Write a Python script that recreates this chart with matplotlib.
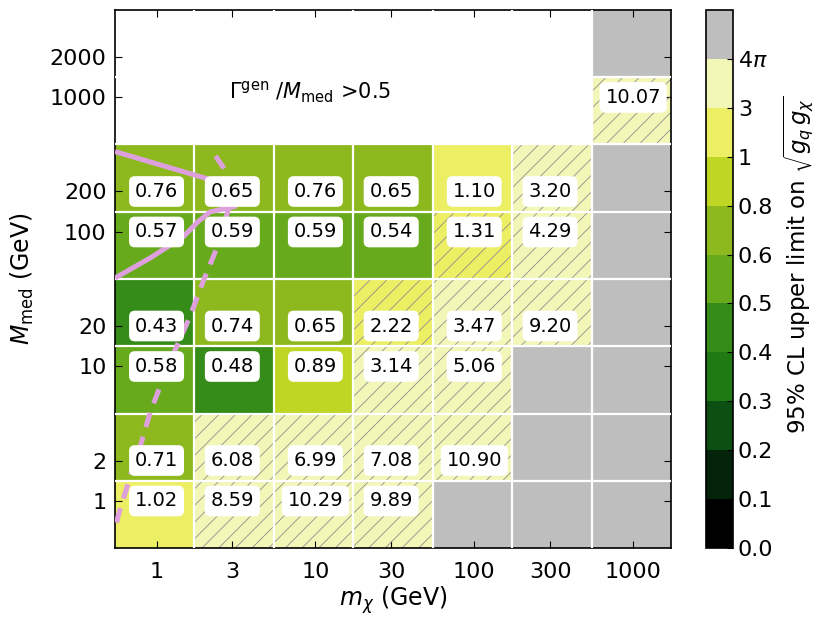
import numpy as np
import matplotlib

matplotlib.use("Agg")
import matplotlib.pyplot as plt
from matplotlib.colors import ListedColormap, BoundaryNorm
from matplotlib.patches import Rectangle

# grid points (GeV)
m_chi = [1, 3, 10, 30, 100, 300, 1000]
m_med = [1, 2, 10, 20, 100, 200, 1000, 2000]
m_chi_labels = ["1", "3", "10", "30", "100", "300", "1000"]
m_med_labels = ["1", "2", "10", "20", "100", "200", "1000", "2000"]

G = np.inf  # limit above 4 pi (gray)
N = np.nan  # Gamma/M_med > 0.5, not shown

# rows: m_med (bottom -> top), cols: m_chi
limits = np.array(
    [
        [1.02, 8.59, 10.29, 9.89, G, G, G],
        [0.71, 6.08, 6.99, 7.08, 10.90, G, G],
        [0.58, 0.48, 0.89, 3.14, 5.06, G, G],
        [0.43, 0.74, 0.65, 2.22, 3.47, 9.20, G],
        [0.57, 0.59, 0.59, 0.54, 1.31, 4.29, G],
        [0.76, 0.65, 0.76, 0.65, 1.10, 3.20, G],
        [N, N, N, N, N, N, 10.07],
        [N, N, N, N, N, N, G],
    ]
)

hatched = np.array(
    [
        [0, 1, 1, 1, 0, 0, 0],
        [0, 1, 1, 1, 1, 0, 0],
        [0, 0, 0, 1, 1, 0, 0],
        [0, 0, 0, 1, 1, 1, 0],
        [0, 0, 0, 0, 1, 1, 0],
        [0, 0, 0, 0, 0, 1, 0],
        [0, 0, 0, 0, 0, 0, 1],
        [0, 0, 0, 0, 0, 0, 0],
    ],
    dtype=bool,
)

bounds = [0, 0.1, 0.2, 0.3, 0.4, 0.5, 0.6, 0.8, 1, 3, 4 * np.pi]
bound_labels = ["0.0", "0.1", "0.2", "0.3", "0.4", "0.5", "0.6", "0.8", "1", "3", r"$4\pi$"]
level_colors = [
    "#000000",
    "#04230b",
    "#0b5012",
    "#1f7a13",
    "#358c18",
    "#67aa1c",
    "#8db91f",
    "#c0d625",
    "#ecee63",
    "#f2f6b6",
]
over_color = "#bebebe"

# relic-density style contours
solid_upper_x = [0.548, 2.11, 3.35]
solid_upper_y = [396, 248, 206]
solid_lower_x = [0.548, 0.91, 1.47, 1.82, 2.17, 2.82, 3.2]
solid_lower_y = [45.5, 64, 92, 119, 141, 151, 156]
dashed_x = [0.56, 0.573, 0.681, 0.787, 0.910, 1.05, 1.31, 1.62, 1.96, 2.51, 2.82, 2.78, 2.17]
dashed_y = [0.69, 0.774, 1.51, 2.52, 4.52, 7.05, 13.3, 23.4, 42.5, 87.3, 146, 275, 422]

plt.rcParams["hatch.linewidth"] = 0.6


def _edges(vals):
    v = np.asarray(vals, dtype=float)
    mid = np.sqrt(v[:-1] * v[1:])
    return np.concatenate([[mid[0] / np.sqrt(10)], mid, [mid[-1] * np.sqrt(10)]])


x_edges = _edges(m_chi)
y_edges = _edges(m_med)

cmap = ListedColormap(level_colors)
cmap.set_over(over_color)
norm = BoundaryNorm(bounds, cmap.N)

fig = plt.figure(figsize=(8.31, 6.32), dpi=100)
ax = fig.add_axes([0.1384, 0.1329, 0.6691, 0.8513])
cax = fig.add_axes([0.8496, 0.1329, 0.0325, 0.8513])

z = np.ma.masked_invalid(np.where(np.isposinf(limits), 1e3, limits))
mesh = ax.pcolormesh(x_edges, y_edges, z, cmap=cmap, norm=norm, zorder=1)

for i in range(len(m_med)):
    for j in range(len(m_chi)):
        if hatched[i, j]:
            ax.add_patch(
                Rectangle(
                    (x_edges[j], y_edges[i]),
                    x_edges[j + 1] - x_edges[j],
                    y_edges[i + 1] - y_edges[i],
                    fill=False,
                    hatch="//",
                    edgecolor="#8f8f8f",
                    linewidth=0,
                    zorder=2,
                )
            )

ax.vlines(x_edges[1:-1], y_edges[0], y_edges[-1], color="white", lw=1.6, zorder=3)
ax.hlines(y_edges[1:-1], x_edges[0], x_edges[-1], color="white", lw=1.6, zorder=3)

ax.plot(solid_upper_x, solid_upper_y, color="plum", lw=3.6, zorder=4, solid_capstyle="butt")
ax.plot(solid_lower_x, solid_lower_y, color="plum", lw=3.6, zorder=4, solid_capstyle="butt")
ax.plot(dashed_x, dashed_y, color="plum", lw=3.6, ls=(0, (3, 2)), zorder=4)

box = dict(boxstyle="round,pad=0.3", facecolor="white", edgecolor="none")
for i, ym in enumerate(m_med):
    for j, xm in enumerate(m_chi):
        v = limits[i, j]
        if np.isfinite(v):
            ax.text(xm, ym, f"{v:.2f}", ha="center", va="center", fontsize=14, bbox=box, zorder=5)

ax.text(
    0.351,
    0.848,
    r"$\Gamma^{\mathrm{gen}}$ /$M_{\mathrm{med}}$ >0.5",
    transform=ax.transAxes,
    ha="center",
    va="center",
    fontsize=15,
)

ax.set_xscale("log")
ax.set_yscale("log")
ax.set_xlim(x_edges[0], x_edges[-1])
ax.set_ylim(y_edges[0], y_edges[-1])
ax.set_xticks(m_chi)
ax.set_xticklabels(m_chi_labels)
ax.set_yticks(m_med)
ax.set_yticklabels(m_med_labels)
ax.minorticks_off()
ax.tick_params(direction="in", top=True, right=True, length=5, labelsize=16, pad=6)
ax.tick_params(axis="x", pad=10)
ax.set_xlabel(r"$m_\chi$ (GeV)", fontsize=17, labelpad=2)
ax.set_ylabel(r"$M_{\mathrm{med}}$ (GeV)", fontsize=17, labelpad=10)
for s in ax.spines.values():
    s.set_linewidth(1.2)

cb = fig.colorbar(
    mesh,
    cax=cax,
    extend="max",
    extendrect=True,
    extendfrac="auto",
    spacing="uniform",
    ticks=bounds,
)
cb.set_ticklabels(bound_labels)
cb.ax.tick_params(direction="in", length=4, labelsize=16)
cb.outline.set_linewidth(1.2)
cb.set_label(
    r"95% CL upper limit on $\sqrt{g_q\, g_\chi}$",
    fontsize=16.5,
    labelpad=6,
    y=0.58,
    ha="center",
)

fig.savefig("out.png", dpi=100)
